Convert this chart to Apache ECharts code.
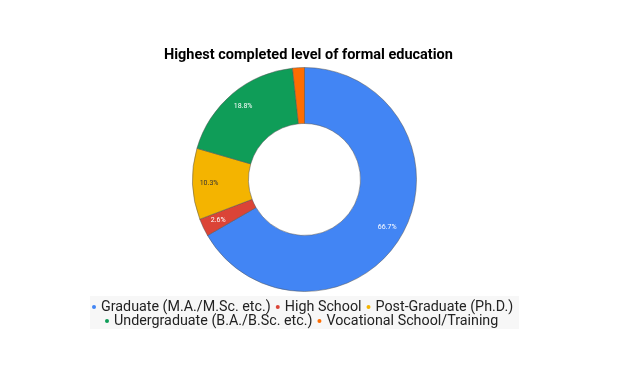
<!DOCTYPE html>
<html><head><meta charset="utf-8">
<script src="https://cdn.jsdelivr.net/npm/echarts@6/dist/echarts.min.js"></script>
<style>html,body{margin:0;padding:0;background:#fff}#c{width:628px;height:368px}</style>
</head><body><div id="c"></div>
<script>
const categories = ["Graduate (M.A./M.Sc. etc.)", "High School", "Post-Graduate (Ph.D.)", "Undergraduate (B.A./B.Sc. etc.)", "Vocational School/Training"];
const counts = [78, 3, 12, 22, 2];
const colors = ["#4285F4", "#DB4437", "#F4B400", "#0F9D58", "#FF6D01"];
const labelColors = ["#fff", "#fff", "#333", "#fff", "#fff"];
const title = "Highest completed level of formal education";

const total = counts.reduce((a, b) => a + b, 0);
const data = categories.map((n, i) => ({ name: n, value: counts[i], itemStyle: { color: colors[i] } }));
const labelData = categories.map((n, i) => ({ name: n, value: counts[i],
  label: { color: labelColors[i], show: counts[i] / total >= 0.02 } }));

const chart = echarts.init(document.getElementById('c'), null, { renderer: 'canvas' });
const legendText = { fontFamily: 'Roboto', fontSize: 14.3, color: '#222' };
const legendCommon = { icon: 'circle', itemWidth: 4, itemHeight: 4, itemGap: 5, textStyle: legendText, padding: 0,
  itemStyle: { borderWidth: 0 } };
chart.setOption({
  animation: false,
  color: colors,
  title: { text: title, left: 159, top: 43, textStyle: { fontFamily: 'Roboto', fontWeight: 'bold', fontSize: 14.5, color: '#000' } },
  graphic: [{ type: 'rect', shape: { x: 90, y: 296, width: 429, height: 33 }, style: { fill: '#f7f7f7' }, z: -10 }],
  legend: [
    Object.assign({ data: categories.slice(0, 3), left: 92, top: 300 }, legendCommon),
    Object.assign({ data: categories.slice(3), left: 105, top: 314 }, legendCommon)
  ],
  series: [
    {
      type: 'pie', center: [304.5, 179.5], radius: [56, 112], startAngle: 90, clockwise: true,
      data: data, label: { show: false }, labelLine: { show: false },
      itemStyle: { borderColor: '#555', borderWidth: 0.5 }
    },
    {
      type: 'pie', center: [304.5, 179.5], radius: [73, 112], startAngle: 90, clockwise: true, silent: true,
      legendHoverLink: false,
      data: labelData,
      itemStyle: { color: 'rgba(0,0,0,0)', borderWidth: 0 },
      label: { show: true, position: 'inside', fontFamily: 'Roboto', fontSize: 7,
        formatter: p => (p.value / total * 100).toFixed(1) + '%' },
      labelLine: { show: false },
      emphasis: { disabled: true }
    }
  ]
});
</script></body></html>
